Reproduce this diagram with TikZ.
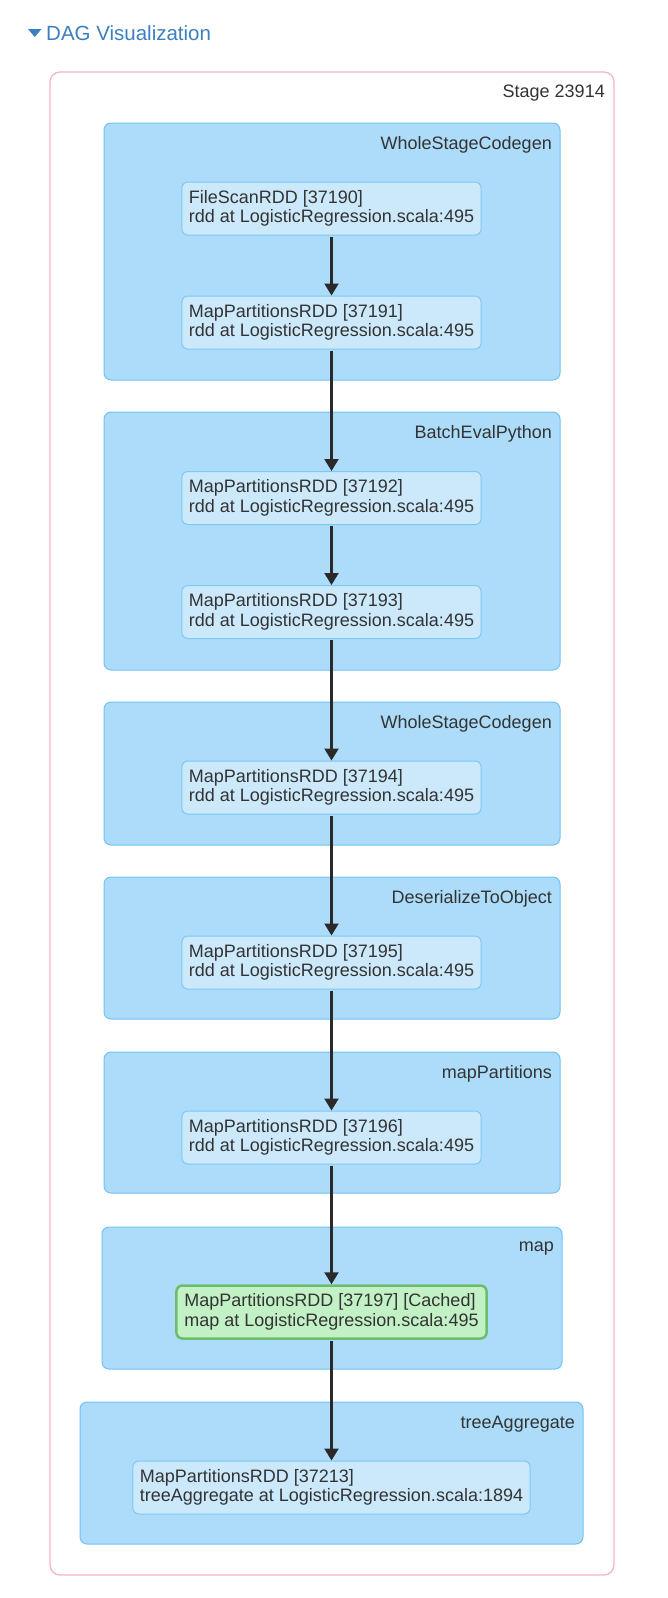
\documentclass[tikz,border=0pt]{standalone}
\usepackage{fontspec}
\setmainfont{Liberation Sans}
\usetikzlibrary{arrows.meta}
\usetikzlibrary{positioning}
\usetikzlibrary{calc}
\definecolor{clusterfill}{HTML}{ACDCFA}
\definecolor{clusterline}{HTML}{72C3F5}
\definecolor{rddfill}{HTML}{CCE9FC}
\definecolor{rddline}{HTML}{7CC8F6}
\definecolor{cachedfill}{HTML}{C3F1C6}
\definecolor{cachedline}{HTML}{6CBD6C}
\definecolor{stageline}{HTML}{F5B5C1}
\definecolor{titleblue}{HTML}{3B7FC0}
\definecolor{textgray}{HTML}{333333}
\definecolor{edgegray}{HTML}{2A2A2A}
\tikzset{
rdd/.style = {draw=rddline, fill=rddfill, rounded corners=6pt, line width=1pt,
              align=left, inner xsep=7pt, minimum height=53pt,
              font=\fontsize{18}{19.5}\selectfont, text=textgray},
cached/.style = {rdd, draw=cachedline, fill=cachedfill, line width=2.5pt, inner xsep=8pt},
cluster/.style = {draw=clusterline, fill=clusterfill, rounded corners=7pt, line width=1pt},
clusterlabel/.style = {anchor=east, inner sep=0pt, font=\fontsize{18}{19.5}\selectfont, text=textgray},
flow/.style = {draw=edgegray, line width=2.2pt, shorten <=1pt, -{Triangle[width=14pt,length=12pt]}}
}
% one rdd box, centred on the flow line
\newcommand{\rddnode}[3]{\node[rdd] (#1) at (331.5,#2) {#3};}
% one operator cluster with its name in the upper right corner
\newcommand{\rddcluster}[6]{\draw[cluster] (#1,#2) rectangle (#3,#4);
  \node[clusterlabel] (#5) at ($(#3,#2)+(-8,22)$) {#6};}

\begin{document}
\begin{tikzpicture}[x=1pt, y=-1pt]
        \useasboundingbox (0,0) rectangle (668,1598);
        % header
        \fill[titleblue] (28,29) -- (41.5,29) -- (34.75,37) -- cycle;
        \node[anchor=west, inner sep=0pt, text=titleblue, font=\fontsize{20.5}{24}\selectfont] (title) at (46,33) {DAG Visualization};
        % stage
        \draw[stageline, line width=1.3pt, rounded corners=10pt] (50,72) rectangle (614,1575);
        \node[clusterlabel] (stage) at (605,93) {Stage 23914};
        % clusters
        \rddcluster{104}{123}{560}{380}{c1}{WholeStageCodegen}
        \rddcluster{104}{412}{560}{670}{c2}{BatchEvalPython}
        \rddcluster{104}{702}{560}{845}{c3}{WholeStageCodegen}
        \rddcluster{104}{877}{560}{1019}{c4}{DeserializeToObject}
        \rddcluster{104}{1052}{560}{1193}{c5}{mapPartitions}
        \rddcluster{102}{1227}{562}{1369}{c6}{map}
        \rddcluster{80}{1402}{583}{1544}{c7}{treeAggregate}
        % rdds
        \rddnode{r0}{208.5}{FileScanRDD [37190]\\rdd at LogisticRegression.scala:495}
        \rddnode{r1}{322.5}{MapPartitionsRDD [37191]\\rdd at LogisticRegression.scala:495}
        \rddnode{r2}{498}{MapPartitionsRDD [37192]\\rdd at LogisticRegression.scala:495}
        \rddnode{r3}{612}{MapPartitionsRDD [37193]\\rdd at LogisticRegression.scala:495}
        \rddnode{r4}{787.5}{MapPartitionsRDD [37194]\\rdd at LogisticRegression.scala:495}
        \rddnode{r5}{962.5}{MapPartitionsRDD [37195]\\rdd at LogisticRegression.scala:495}
        \rddnode{r6}{1137.5}{MapPartitionsRDD [37196]\\rdd at LogisticRegression.scala:495}
        \node[cached] (r7) at (331.5,1312) {MapPartitionsRDD [37197] [Cached]\\map at LogisticRegression.scala:495};
        \rddnode{r8}{1487.5}{MapPartitionsRDD [37213]\\treeAggregate at LogisticRegression.scala:1894}
        % edges
        \foreach \a/\b in {r0/r1, r1/r2, r2/r3, r3/r4, r4/r5, r5/r6, r6/r7, r7/r8}
          \draw[flow] (\a.south) -- (\b.north);
\end{tikzpicture}
\end{document}
